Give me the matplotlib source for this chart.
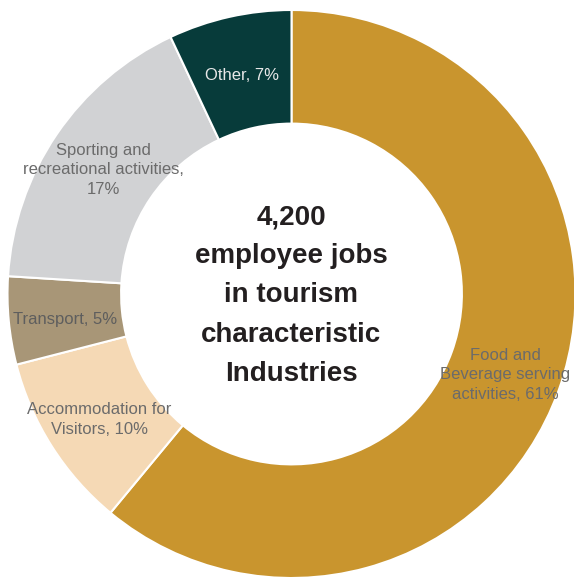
import numpy as np
import matplotlib.pyplot as plt

# tourism characteristic industries, share of employee jobs (%)
labels = ["Food and\nBeverage serving\nactivities, 61%",
          "Accommodation for\nVisitors, 10%",
          "Transport, 5%",
          "Sporting and\nrecreational activities,\n17%",
          "Other, 7%"]
shares = [61, 10, 5, 17, 7]
colors = ["#C9952E", "#F5D9B5", "#A89677", "#D1D2D4", "#073B3A"]
label_colors = ["#6B6B6B", "#6B6B6B", "#5E5E5E", "#6B6B6B", "#E8E8E8"]
centre_text = "4,200\nemployee jobs\nin tourism\ncharacteristic\nIndustries"

plt.rcParams['font.family'] = ['Liberation Sans', 'DejaVu Sans']

W, H = 574, 578
cx, cy, R = 291.5, 294, 284  # centre and radius in pixels
fig = plt.figure(figsize=(W / 100, H / 100), dpi=100)
ax = fig.add_axes([0, 0, 1, 1])

ax.pie(shares, colors=colors, startangle=90, counterclock=False, radius=1,
       wedgeprops=dict(width=0.4, edgecolor='white', linewidth=1.5))

# pie() resets the limits, so set them afterwards
ax.set_xlim(-cx / R, (W - cx) / R)
ax.set_ylim(-(H - cy) / R, cy / R)
ax.set_aspect('equal')
ax.axis('off')

# labels sit in the middle of each ring segment
total = sum(shares)
cum = np.cumsum([0] + shares[:-1])
for lab, s, c0, tc in zip(labels, shares, cum, label_colors):
    ang = np.deg2rad(90 - 360 * (c0 + s / 2) / total)
    ax.text(0.8 * np.cos(ang), 0.8 * np.sin(ang) - 0.013, lab, ha='center',
            va='center', fontsize=12, color=tc, linespacing=1.38)

ax.text(0, -0.005, centre_text, ha='center', va='center', fontsize=20,
        fontweight='bold', color='#231F20', linespacing=1.66)

fig.savefig("out.png", dpi=100)
